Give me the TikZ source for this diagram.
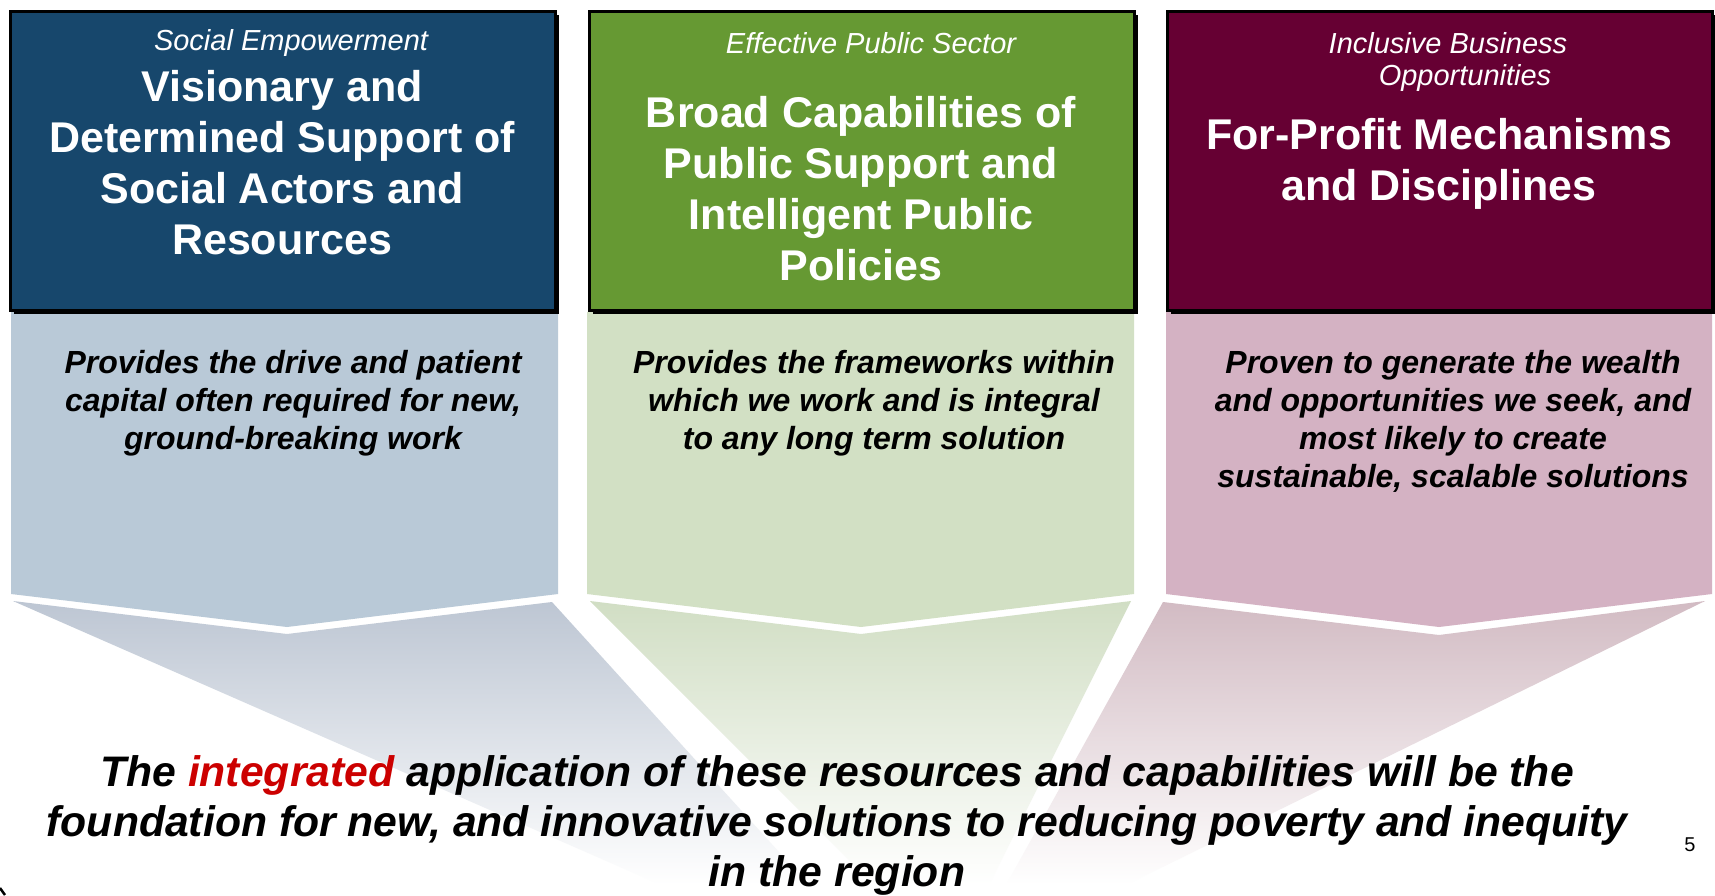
\documentclass[tikz,border=0pt]{standalone}
\usepackage{fontspec}
\setmainfont{Liberation Sans}
\usetikzlibrary{shadows}
\definecolor{navy}{HTML}{17476C}
\definecolor{grn}{HTML}{669933}
\definecolor{mar}{HTML}{660033}
\definecolor{lblue}{HTML}{B9C9D7}
\definecolor{lgreen}{HTML}{D2E0C4}
\definecolor{lpink}{HTML}{D4B2C3}
\definecolor{fblue}{HTML}{BDC6D3}
\definecolor{fgreen}{HTML}{D1DEC4}
\definecolor{fpink}{HTML}{D2BBC3}
\definecolor{accent}{HTML}{CC0000}
\tikzset{
  hdrbox/.style={draw=black, line width=2.5pt, anchor=north west,
    minimum width=545, minimum height=299, inner sep=0pt,
    drop shadow={shadow xshift=4pt, shadow yshift=-4pt, fill=black, opacity=1}},
  subtxt/.style={text=white, font=\fontsize{29}{35}\selectfont\itshape, align=center, inner sep=0pt},
  ttltxt/.style={text=white, font=\fontsize{43}{51}\selectfont\bfseries, align=center, inner sep=0pt},
  desctxt/.style={text=black, font=\fontsize{32}{38}\selectfont\bfseries\itshape, align=center, inner sep=0pt},
  foottxt/.style={text=black, font=\fontsize{42.7}{50}\selectfont\bfseries\itshape, align=center, inner sep=0pt},
}
\begin{document}
\begin{tikzpicture}[x=1pt, y=-1pt]
\useasboundingbox (0,0) rectangle (1715,895);
\fill[white] (0,0) rectangle (1715,895);

% light panels
\fill[lblue]  (11,312) -- (558,312) -- (558,594) -- (287,627) -- (11,594) -- cycle;
\fill[lgreen] (587,312) -- (1134,312) -- (1134,594) -- (861,627) -- (587,594) -- cycle;
\fill[lpink]  (1166,312) -- (1712,312) -- (1712,594) -- (1439,627) -- (1166,594) -- cycle;

% fading lower shapes
\shade[top color=fblue, middle color=fblue!70!white, bottom color=white]
  (13,601) -- (287,634) -- (552,602) -- (809,885) -- (661,885) -- cycle;
\shade[top color=fgreen, middle color=fgreen!70!white, bottom color=white]
  (590,601) -- (861,634) -- (1131,601) -- (989,885) -- (874,885) -- cycle;
\shade[top color=fpink, middle color=fpink!70!white, bottom color=white]
  (1163,602) -- (1439,635) -- (1705,601) -- (1126,885) -- (1006,885) -- cycle;

% header boxes
\node[hdrbox, fill=navy] (b1) at (9,10) {};
\node[hdrbox, fill=grn]  (b2) at (588,10) {};
\node[hdrbox, fill=mar]  (b3) at (1166,10) {};

% header texts
\node[subtxt] (s1) at (291,43) {Social Empowerment};
\node[ttltxt] (t1) at (282,163) {Visionary and\\Determined Support of\\Social Actors and\\Resources};
\node[subtxt] (s2) at (871,43) {Effective Public Sector};
\node[ttltxt] (t2) at (861,189) {Broad Capabilities of\\Public Support and\\Intelligent Public\\Policies};
\node[subtxt] (s3a) at (1448,43) {Inclusive Business};
\node[subtxt] (s3b) at (1465,78) {Opportunities};
\node[ttltxt] (t3) at (1439,164) {For-Profit Mechanisms\\and Disciplines};

% descriptions
\node[desctxt] (d1) at (293,403) {Provides the drive and patient\\capital often required for new,\\ground-breaking work};
\node[desctxt] (d2) at (874,403) {Provides the frameworks within\\which we work and is integral\\to any long term solution};
\node[desctxt] (d3) at (1453,421) {Proven to generate the wealth\\and opportunities we seek, and\\most likely to create\\sustainable, scalable solutions};

% footer
\node[foottxt] (f) at (837,825) {The \textcolor{accent}{integrated} application of these resources and capabilities will be the\\foundation for new, and innovative solutions to reducing poverty and inequity\\in the region};

\node[font=\fontsize{20}{24}\selectfont, inner sep=0pt] (pg) at (1690,845) {5};

% slide corner fragment
\draw[line width=2.5pt, black] (0,888) -- (5,895);
\end{tikzpicture}
\end{document}
